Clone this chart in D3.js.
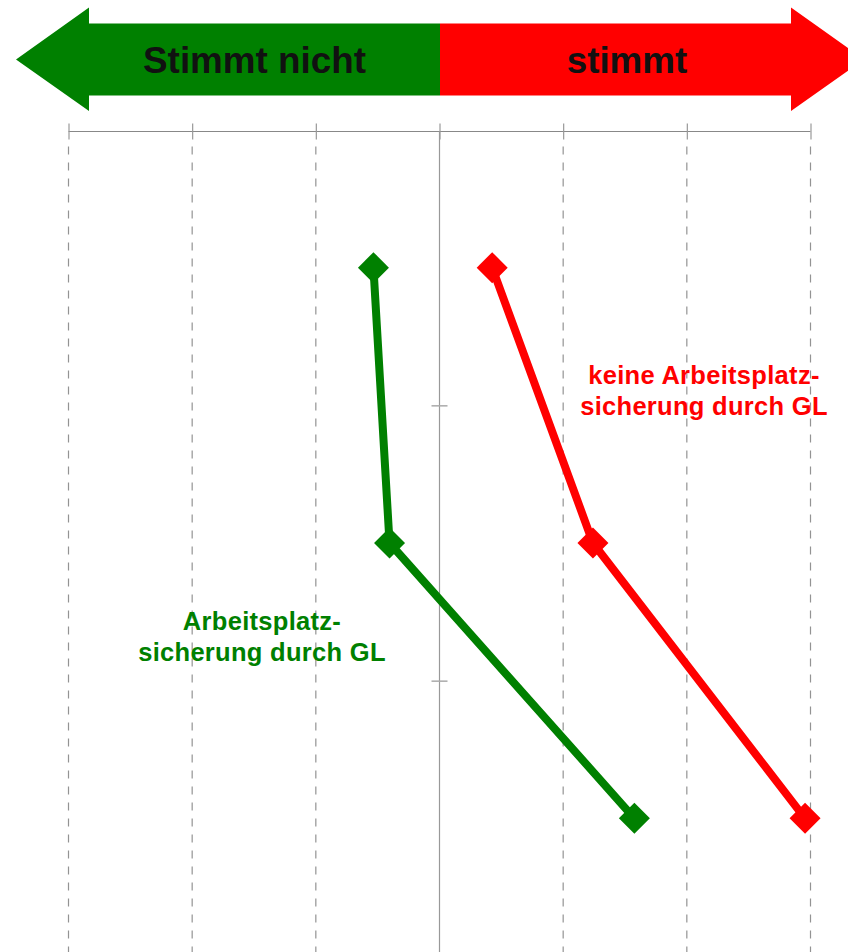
<!DOCTYPE html>
<html>
<head>
<meta charset="utf-8">
<script src="https://cdn.jsdelivr.net/npm/d3@7"></script>
<style>
  html, body { margin: 0; padding: 0; background: #fff; }
  svg { display: block; }
</style>
</head>
<body>
<svg id="chart" width="848" height="952"></svg>
<script>
// ---- data ----
const categories = ["Aussage 1", "Aussage 2", "Aussage 3"];
const seriesNames = ["Arbeitsplatzsicherung durch GL", "keine Arbeitsplatzsicherung durch GL"];
const greenValues = [-0.53, -0.40, 1.58];
const redValues = [0.43, 1.245, 2.96];
const xTicks = [-3, -2, -1, 0, 1, 2, 3];
const headerLeft = "Stimmt nicht";
const headerRight = "stimmt";
const greenLabel = ["Arbeitsplatz-", "sicherung durch GL"];
const redLabel = ["keine Arbeitsplatz-", "sicherung durch GL"];

const GREEN = "#008000", RED = "#ff0000";
const svg = d3.select("#chart");

const x = d3.scaleLinear().domain([-3, 3]).range([68, 810]);
const y = d3.scaleBand().domain(categories).range([130, 956]).padding(0);
const yc = c => y(c) + y.bandwidth() / 2;

// ---- header arrow ----
const cx = x(0) + 1;
const tipL = 16, headL = 89, headR = 2 * cx - headL, tipR = 2 * cx - tipL;
const yTop = 7.5, yBot = 111, bTop = 23.5, bBot = 95.5, yMid = 59.5;
svg.append("path")
  .attr("d", `M${tipL},${yMid} L${headL},${yTop} L${headL},${bTop} L${cx},${bTop} L${cx},${bBot} L${headL},${bBot} L${headL},${yBot} Z`)
  .attr("fill", GREEN);
svg.append("path")
  .attr("d", `M${tipR},${yMid} L${headR},${yTop} L${headR},${bTop} L${cx},${bTop} L${cx},${bBot} L${headR},${bBot} L${headR},${yBot} Z`)
  .attr("fill", RED);
svg.append("text").attr("x", 254.5).attr("y", 72.5).attr("text-anchor", "middle")
  .attr("font-family", "Liberation Sans, Arial, sans-serif").attr("font-weight", "bold")
  .attr("font-size", 36.8).attr("fill", "#111").text(headerLeft);
svg.append("text").attr("x", 627).attr("y", 72.5).attr("text-anchor", "middle")
  .attr("font-family", "Liberation Sans, Arial, sans-serif").attr("font-weight", "bold")
  .attr("font-size", 36.8).attr("fill", "#111").text(headerRight);

// ---- grid ----
const grid = svg.append("g");
grid.selectAll("line.grid").data(xTicks.filter(t => t !== 0)).join("line")
  .attr("class", "grid")
  .attr("x1", d => x(d) + 0.5).attr("x2", d => x(d) + 0.5)
  .attr("y1", 146.5).attr("y2", 952)
  .attr("stroke", "#939393").attr("stroke-width", 1.2).attr("stroke-dasharray", "8,8");

// top axis
const topAxis = d3.axisTop(x).tickValues(xTicks).tickSize(8).tickFormat("");
const gTop = svg.append("g").attr("transform", "translate(0.5,131.5)").call(topAxis);
gTop.select(".domain").attr("stroke", "#888").attr("stroke-width", 1.2).attr("d", `M${x(-3)},0H${x(3)}`);
gTop.selectAll(".tick line").attr("stroke", "#999").attr("stroke-width", 1.2).attr("y1", 8).attr("y2", -8);

// center vertical axis
const gC = svg.append("g").attr("transform", `translate(${x(0) + 0.5},0)`);
gC.append("line").attr("x1", 0).attr("x2", 0).attr("y1", 131.5).attr("y2", 952)
  .attr("stroke", "#999").attr("stroke-width", 1.2);
gC.selectAll("line.cat").data(categories.slice(1)).join("line")
  .attr("class", "cat")
  .attr("x1", -8).attr("x2", 8)
  .attr("y1", d => y(d) + 0.5).attr("y2", d => y(d) + 0.5)
  .attr("stroke", "#aaa").attr("stroke-width", 1.5);

// ---- series ----
const series = [
  { name: seriesNames[0], values: greenValues, color: GREEN },
  { name: seriesNames[1], values: redValues, color: RED }
];
const line = d3.line().x(d => x(d.v)).y(d => yc(d.c));
const dsize = 15.5;
const diamond = `M0,${-dsize}L${dsize},0L0,${dsize}L${-dsize},0Z`;
series.forEach(s => {
  const pts = categories.map((c, i) => ({ c, v: s.values[i] }));
  svg.append("path").datum(pts).attr("d", line)
    .attr("fill", "none").attr("stroke", s.color).attr("stroke-width", 8)
    .attr("stroke-linejoin", "round");
  svg.selectAll(null).data(pts).join("path")
    .attr("d", diamond)
    .attr("transform", d => `translate(${x(d.v)},${yc(d.c)})`)
    .attr("fill", s.color);
});

// ---- labels ----
function label(lines, cxPos, y0, color) {
  const t = svg.append("text").attr("text-anchor", "middle")
    .attr("font-family", "Liberation Sans, Arial, sans-serif").attr("font-weight", "bold")
    .attr("font-size", 25.5).attr("letter-spacing", 0.3).attr("fill", color);
  lines.forEach((l, i) => t.append("tspan").attr("x", cxPos).attr("y", y0 + i * 31).text(l));
}
label(redLabel, 704, 384, RED);
label(greenLabel, 262, 630, GREEN);
</script>
</body>
</html>
